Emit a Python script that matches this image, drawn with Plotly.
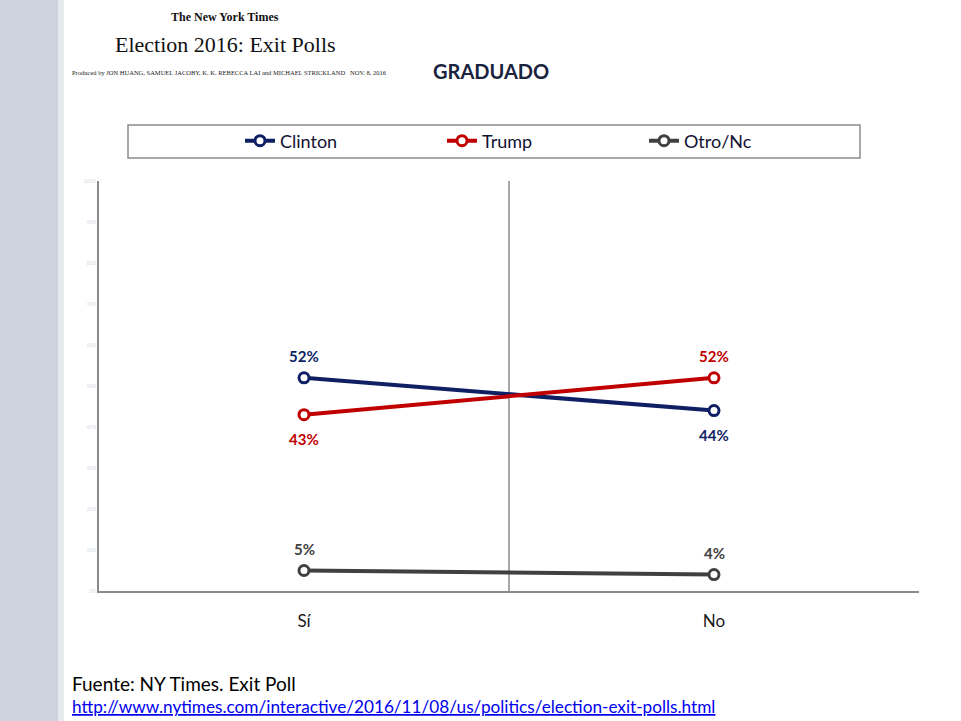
import plotly.graph_objects as go

# Data
categories = ["Sí", "No"]
clinton = [52, 44]
trump = [43, 52]
otro = [5, 4]
series_names = ["Clinton", "Trump", "Otro/Nc"]
y_ticks = [0, 10, 20, 30, 40, 50, 60, 70, 80, 90, 100]
y_tick_labels = [f"{v}%" for v in y_ticks]

colors = ["#0f1f63", "#c00000", "#404040"]
label_pos = [[1, -1], [-1, 1], [1, 1]]  # +1 above the point, -1 below

W, H = 961, 721
L, R, T, B = 99, 919, 181, 591


def px_x(px):
    return (px - L) / (R - L)


def px_y(py):
    return (B - py) / (B - T)


FONT = "Lato"

fig = go.Figure()

for name, vals, col in zip(series_names, [clinton, trump, otro], colors):
    fig.add_trace(go.Scatter(
        x=categories, y=vals, name=name, mode="lines+markers",
        line=dict(color=col, width=4),
        marker=dict(symbol="circle", size=10, color="white",
                    line=dict(color=col, width=3)),
        hoverinfo="skip",
    ))

# data labels
for vals, col, pos in zip([clinton, trump, otro], colors, label_pos):
    for cat, v, p in zip(categories, vals, pos):
        fig.add_annotation(
            x=cat, y=v, text=f"<b>{v}%</b>", showarrow=False,
            yshift=(24 if p < 0 else 22 + (v < 10) * 0) * p,
            font=dict(family=FONT, size=15, color=col),
        )

shapes = [
    # left decorative strip (stands in for the picture)
    dict(type="rect", xref="paper", yref="paper", x0=px_x(0), x1=px_x(58),
         y0=px_y(721), y1=px_y(0), fillcolor="#cdd3de", line_width=0, layer="below"),
    dict(type="rect", xref="paper", yref="paper", x0=px_x(58), x1=px_x(64),
         y0=px_y(721), y1=px_y(0), fillcolor="#e6e9ee", line_width=0, layer="below"),
    # legend frame
    dict(type="rect", xref="paper", yref="paper", x0=px_x(128), x1=px_x(860),
         y0=px_y(158), y1=px_y(125), line=dict(color="#8c8c8c", width=1.5),
         fillcolor="white", layer="below"),
    # centre divider
    dict(type="line", xref="x", yref="y", x0=0.5, x1=0.5, y0=-1.7, y1=100,
         line=dict(color="#8a8a8a", width=1.5), layer="below"),
]

texts = [
    dict(x=225, y=17, text="<b>The New York Times</b>", size=12, family="Liberation Serif",
         color="#111111", xanchor="center"),
    dict(x=225, y=45, text="Election 2016: Exit Polls", size=22, family="Liberation Serif",
         color="#111111", xanchor="center"),
    dict(x=70, y=72, text="Produced by JON HUANG, SAMUEL JACOBY, K. K. REBECCA LAI and MICHAEL "
         "STRICKLAND &nbsp;&nbsp;NOV. 8, 2016", size=6.5, family="Liberation Serif",
         color="#222222", xanchor="left"),
    dict(x=491, y=71, text="<b>GRADUADO</b>", size=20, family=FONT, color="#1a2340",
         xanchor="center"),
    dict(x=70, y=683, text="Fuente: NY Times. Exit Poll", size=19, family=FONT,
         color="#000000", xanchor="left"),
    dict(x=70, y=706, text="<u>http://www.nytimes.com/interactive/2016/11/08/us/politics/"
         "election-exit-polls.html</u>", size=17.2, family=FONT, color="#0000ee",
         xanchor="left"),
]
for t in texts:
    fig.add_annotation(
        xref="paper", yref="paper", x=px_x(t["x"]), y=px_y(t["y"]),
        text=t["text"], showarrow=False, xanchor=t["xanchor"], yanchor="middle",
        font=dict(family=t["family"], size=t["size"], color=t["color"]),
    )

fig.update_layout(
    width=W, height=H,
    margin=dict(l=L, r=W - R, t=T, b=H - B),
    paper_bgcolor="white", plot_bgcolor="rgba(0,0,0,0)",
    shapes=shapes,
    showlegend=True,
    legend=dict(
        orientation="h", x=px_x(240), y=px_y(141), xanchor="left", yanchor="middle",
        entrywidth=157, entrywidthmode="pixels", itemwidth=30,
        bgcolor="rgba(0,0,0,0)", borderwidth=0,
        font=dict(family=FONT, size=18, color="#111133"),
    ),
    xaxis=dict(
        type="category", range=[-0.5, 1.5], showline=True, linecolor="#8a8a8a",
        linewidth=1.5, showgrid=False, zeroline=False, ticks="",
        ticklabelstandoff=14, tickfont=dict(family=FONT, size=17, color="#1a1a1a"),
    ),
    yaxis=dict(
        range=[0, 100], showline=True, linecolor="#8a8a8a", linewidth=1.5,
        showgrid=False, zeroline=False, tickvals=y_ticks, ticktext=y_tick_labels,
        tickfont=dict(family=FONT, size=5, color="#d5dbe3"), ticks="",
    ),
    hovermode=False,
)

# drop the browser's default page margin so the figure sits at the window origin
fig.write_html("out.html", config={"displayModeBar": False},
               post_script="document.body.style.margin = '0';")
